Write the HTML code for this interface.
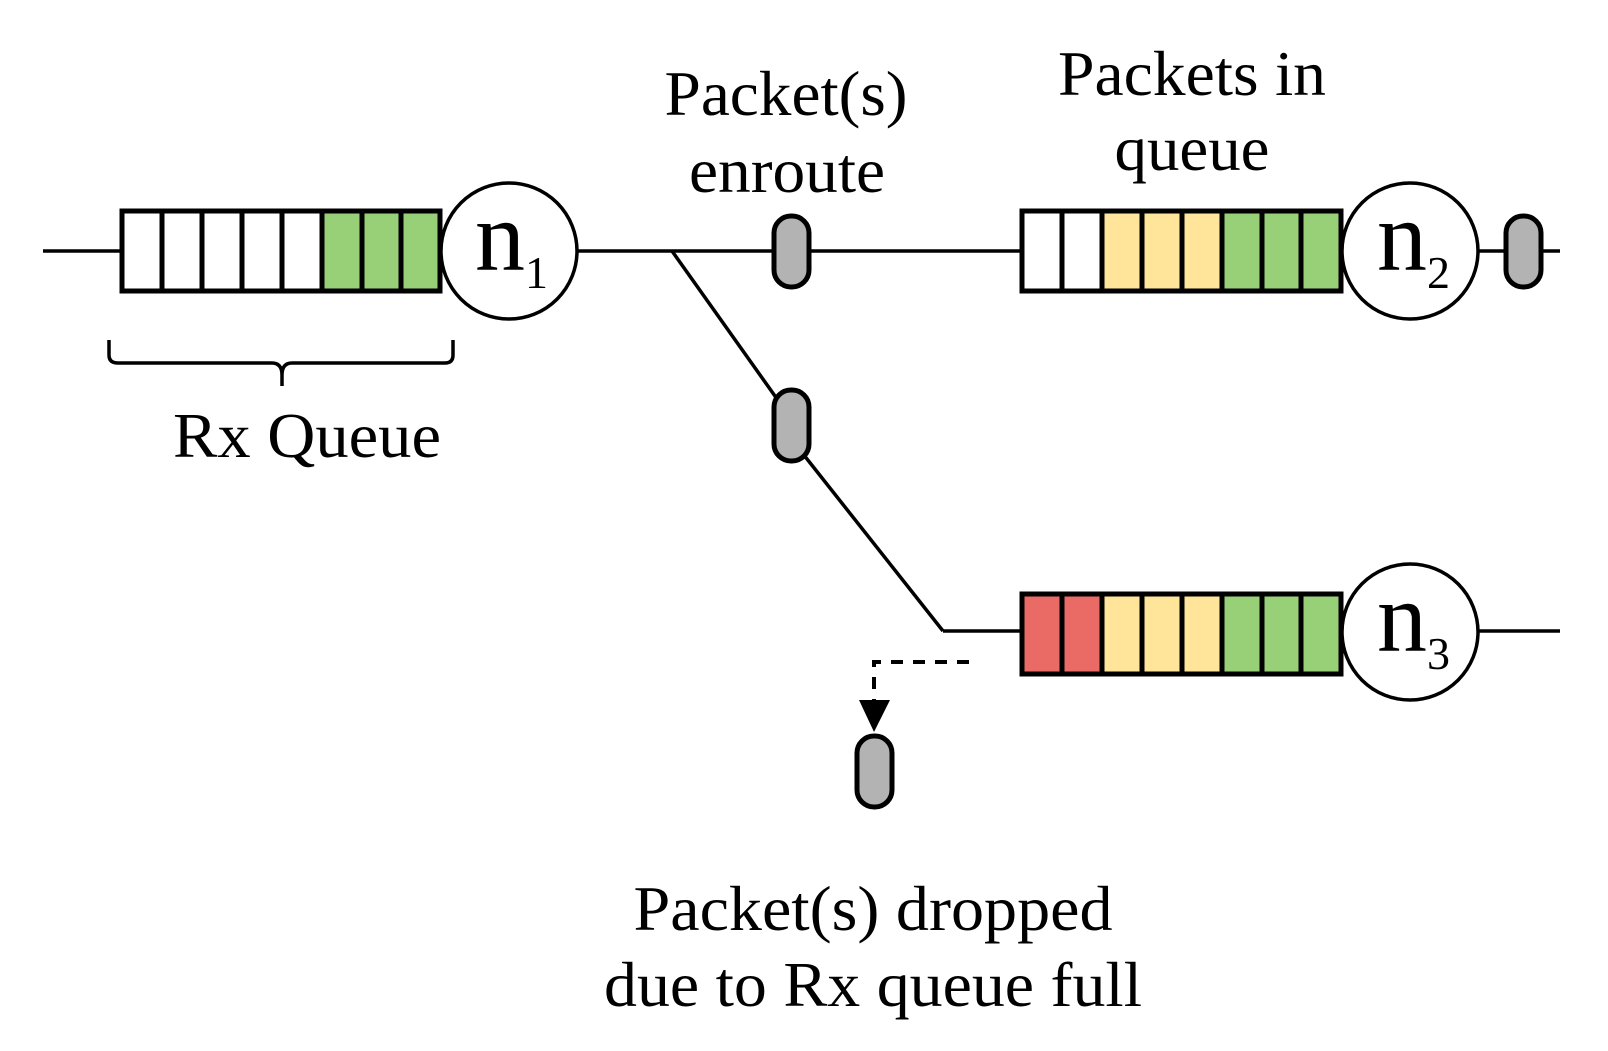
<!DOCTYPE html>
<html><head><meta charset="utf-8"><style>html,body{margin:0;padding:0;background:#fff}svg{display:block}</style></head>
<body>
<svg width="1608" height="1051" viewBox="0 0 1608 1051" xmlns="http://www.w3.org/2000/svg" font-family="'Liberation Serif', serif" fill="none">
<g stroke="#000" stroke-width="3.5">
<line x1="43" y1="251" x2="122" y2="251"/>
<line x1="577" y1="251" x2="1022" y2="251"/>
<line x1="672" y1="251" x2="792" y2="420"/>
<line x1="792" y1="440" x2="943" y2="631"/>
<line x1="943" y1="631" x2="1022" y2="631"/>
<line x1="1478" y1="251" x2="1560" y2="251"/>
<line x1="1478" y1="631" x2="1560" y2="631"/>
</g>
<g stroke="#000" stroke-width="5">
<rect x="122" y="211" width="40" height="80" fill="#fff"/><rect x="162" y="211" width="40" height="80" fill="#fff"/><rect x="202" y="211" width="40" height="80" fill="#fff"/><rect x="242" y="211" width="40" height="80" fill="#fff"/><rect x="282" y="211" width="40" height="80" fill="#fff"/><rect x="322" y="211" width="40" height="80" fill="#97d077"/><rect x="362" y="211" width="39" height="80" fill="#97d077"/><rect x="401" y="211" width="39" height="80" fill="#97d077"/>
<rect x="1022" y="211" width="40" height="80" fill="#fff"/><rect x="1062" y="211" width="40" height="80" fill="#fff"/><rect x="1102" y="211" width="40" height="80" fill="#ffe599"/><rect x="1142" y="211" width="40" height="80" fill="#ffe599"/><rect x="1182" y="211" width="40" height="80" fill="#ffe599"/><rect x="1222" y="211" width="40" height="80" fill="#97d077"/><rect x="1262" y="211" width="39" height="80" fill="#97d077"/><rect x="1301" y="211" width="40" height="80" fill="#97d077"/>
<rect x="1022" y="594" width="40" height="80" fill="#ea6b66"/><rect x="1062" y="594" width="40" height="80" fill="#ea6b66"/><rect x="1102" y="594" width="40" height="80" fill="#ffe599"/><rect x="1142" y="594" width="40" height="80" fill="#ffe599"/><rect x="1182" y="594" width="40" height="80" fill="#ffe599"/><rect x="1222" y="594" width="40" height="80" fill="#97d077"/><rect x="1262" y="594" width="39" height="80" fill="#97d077"/><rect x="1301" y="594" width="40" height="80" fill="#97d077"/>
</g>
<g stroke="#000" stroke-width="3.5" fill="#fff">
<circle cx="509" cy="251" r="68"/>
<circle cx="1410" cy="251" r="68"/>
<circle cx="1410" cy="632" r="68"/>
</g>
<g stroke="#000" stroke-width="5" fill="#b3b3b3">
<rect x="774" y="216" width="35" height="71" rx="17"/>
<rect x="1506" y="216" width="35" height="71" rx="17"/>
<rect x="774" y="390" width="35" height="71" rx="17"/>
<rect x="857" y="736" width="35" height="71" rx="17"/>
</g>
<path d="M969 662 H874 V702" stroke="#000" stroke-width="4" stroke-dasharray="12 10"/>
<polygon points="859,700 890,700 874,732" fill="#000"/>
<path d="M109 340 V355 Q109 363 118 363 H272 Q282 363 282 375 V386 M282 375 Q282 363 292 363 H445 Q453 363 453 355 V340" stroke="#000" stroke-width="3.5"/>
<g fill="#000" font-size="64" text-anchor="middle">
<text x="307" y="457" textLength="268" lengthAdjust="spacingAndGlyphs">Rx Queue</text>
<text x="786" y="115" textLength="243" lengthAdjust="spacingAndGlyphs">Packet(s)</text>
<text x="787" y="192" textLength="196" lengthAdjust="spacingAndGlyphs">enroute</text>
<text x="1192" y="95" textLength="268" lengthAdjust="spacingAndGlyphs">Packets in</text>
<text x="1192" y="170" textLength="155" lengthAdjust="spacingAndGlyphs">queue</text>
<text x="873" y="930" textLength="479" lengthAdjust="spacingAndGlyphs">Packet(s) dropped</text>
<text x="873" y="1006" textLength="538" lengthAdjust="spacingAndGlyphs">due to Rx queue full</text>
</g>
<g fill="#000" font-size="100">
<text x="475" y="270">n<tspan font-size="46" dy="18">1</tspan></text>
<text x="1377" y="270">n<tspan font-size="46" dy="18">2</tspan></text>
<text x="1377" y="651">n<tspan font-size="46" dy="18">3</tspan></text>
</g>
</svg>
</body></html>
